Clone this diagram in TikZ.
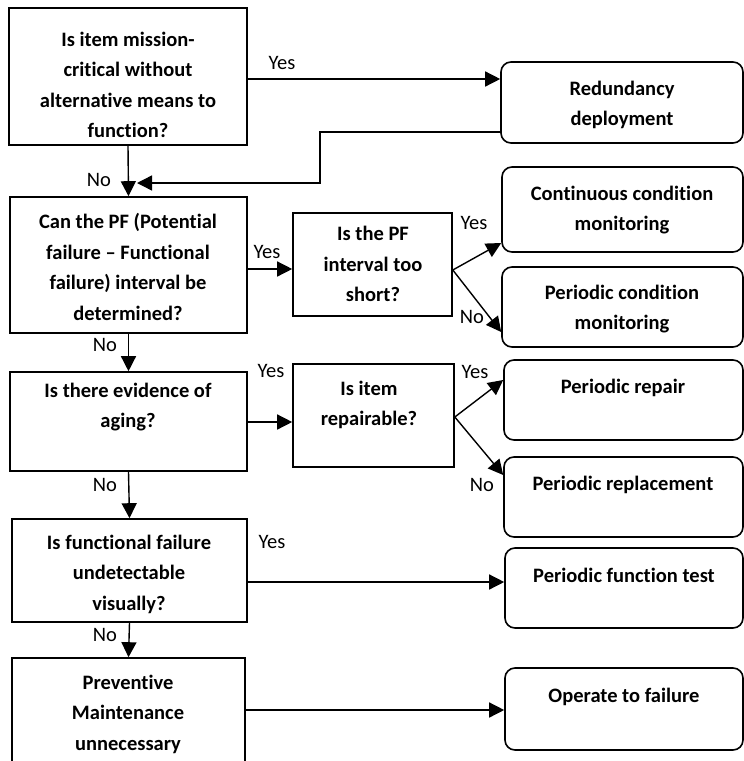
\documentclass[tikz,border=0pt]{standalone}
\usepackage{fontspec}
\setmainfont{Carlito}[Ligatures=NoCommon]
\usetikzlibrary{arrows.meta}
\begin{document}
\begin{tikzpicture}[x=1pt,y=-1pt,
  qbox/.style={draw, line width=1.6pt, inner sep=0pt, rectangle},
  abox/.style={draw, line width=1.6pt, inner sep=0pt, rectangle, rounded corners=10pt},
  txt/.style={font=\fontsize{20.5}{30.5}\selectfont\bfseries, align=center, inner sep=0pt},
  lbl/.style={font=\fontsize{20.5}{24}\selectfont, inner sep=0pt},
  arr/.style={line width=1.4pt, -{Triangle[length=15pt,width=15pt]}},
  ln/.style={line width=1.4pt}]
\clip (0,0) rectangle (744,761);
\fill[white] (0,0) rectangle (744,761);
% question boxes
\node[qbox, minimum width=238pt, minimum height=137pt] (q1) at (128,76.5) {};
\node[qbox, minimum width=237pt, minimum height=136pt] (q2) at (128.5,265) {};
\node[qbox, minimum width=237pt, minimum height=99pt]  (q4) at (128.5,421.5) {};
\node[qbox, minimum width=235pt, minimum height=103pt] (q6) at (129.5,570.5) {};
\node[qbox, minimum width=233pt, minimum height=132pt] (q7) at (128.5,724) {};
\node[qbox, minimum width=159pt, minimum height=103pt] (q3) at (372.5,264.5) {};
\node[qbox, minimum width=161pt, minimum height=103pt] (q5) at (373.5,415.5) {};
% answer boxes
\node[abox, minimum width=242pt, minimum height=81pt] (r1) at (622,102.5) {};
\node[abox, minimum width=241pt, minimum height=85pt] (r2) at (622.5,209.5) {};
\node[abox, minimum width=241pt, minimum height=80pt] (r3) at (622.5,307) {};
\node[abox, minimum width=239pt, minimum height=80pt] (r4) at (623.5,400) {};
\node[abox, minimum width=239pt, minimum height=80pt] (r5) at (623.5,497) {};
\node[abox, minimum width=238pt, minimum height=80pt] (r6) at (624,588) {};
\node[abox, minimum width=238pt, minimum height=82pt] (r7) at (624,709) {};
% texts
\node[txt] (q1t) at (128,85) {Is item mission-\\critical without\\alternative means to\\function?};
\node[txt] (q2t) at (128,267) {Can the PF (Potential\\failure – Functional\\failure) interval be\\determined?};
\node[txt] (q3t) at (373,264) {Is the PF\\interval too\\short?};
\node[txt] (q4t) at (128,407) {Is there evidence of\\aging?};
\node[txt] (q5t) at (369,405) {Is item\\repairable?};
\node[txt] (q6t) at (129,574) {Is functional failure\\undetectable\\visually?};
\node[txt] (q7t) at (128,714) {Preventive\\Maintenance\\unnecessary};
\node[txt] (r1t) at (622,105) {Redundancy\\deployment};
\node[txt] (r2t) at (622,210) {Continuous condition\\monitoring};
\node[txt] (r3t) at (622,309) {Periodic condition\\monitoring};
\node[txt] (r4t) at (623,388) {Periodic repair};
\node[txt] (r5t) at (623,485) {Periodic replacement};
\node[txt] (r6t) at (624,575) {Periodic function test};
\node[txt] (r7t) at (624,697) {Operate to failure};
% helper coordinates
\coordinate (y79) at (0,79);
\coordinate (y132) at (0,132);
\coordinate (bend) at (320,183);
\coordinate (join) at (137,183);
\coordinate (y269) at (0,269);
\coordinate (y270) at (0,270);
\coordinate (y243) at (0,243);
\coordinate (y332) at (0,332);
\coordinate (y422) at (0,422);
\coordinate (y417) at (0,417);
\coordinate (y380) at (0,380);
\coordinate (y475) at (0,475);
\coordinate (y582) at (0,582);
\coordinate (y710) at (0,710);
% connectors
\draw[arr] (q1.east |- y79) -- (r1.west |- y79);
\draw[arr] (r1.west |- y132) -| (bend) -- (join);
\draw[arr] (q1.south) -- (q2.north);
\draw[arr] (q2.east |- y269) -- (q3.west |- y269);
\draw[arr] (q3.east |- y270) -- (r2.west |- y243);
\draw[arr] (q3.east |- y270) -- (r3.west |- y332);
\draw[arr] (q2.south) -- (q4.north);
\draw[arr] (q4.east |- y422) -- (q5.west |- y422);
\draw[arr] (q5.east |- y417) -- (r4.west |- y380);
\draw[arr] (q5.east |- y417) -- (r5.west |- y475);
\draw[arr] (q4.south) -- (q6.north);
\draw[arr] (q6.east |- y582) -- (r6.west |- y582);
\draw[arr] (q6.south) -- (q7.north);
\draw[arr] (q7.east |- y710) -- (r7.west |- y710);
% labels
\node[lbl] (l1) at (282,63) {Yes};
\node[lbl] (l2) at (99,180) {No};
\node[lbl] (l3) at (267,252) {Yes};
\node[lbl] (l4) at (474,223) {Yes};
\node[lbl] (l5) at (472,317) {No};
\node[lbl] (l6) at (105,345) {No};
\node[lbl] (l7) at (271,371) {Yes};
\node[lbl] (l8) at (475,372) {Yes};
\node[lbl] (l9) at (482,485) {No};
\node[lbl] (l10) at (105,485) {No};
\node[lbl] (l11) at (272,542) {Yes};
\node[lbl] (l12) at (105,635) {No};
\end{tikzpicture}
\end{document}
